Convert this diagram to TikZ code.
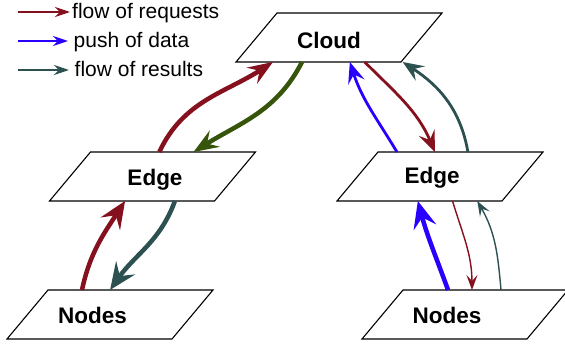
\documentclass[tikz,border=0pt]{standalone}
\usepackage{fontspec}
\setmainfont{Liberation Sans}
\usetikzlibrary{arrows.meta,calc}

\definecolor{reqcol}{RGB}{133,16,30}
\definecolor{datacol}{RGB}{40,0,255}
\definecolor{rescol}{RGB}{45,80,80}
\definecolor{backcol}{RGB}{55,85,10}

\tikzset{
  % the rectangle is the body of a parallelogram whose sides lean by 20.5pt each way
  box/.style={minimum width=165pt, minimum height=49pt, inner sep=0pt, outer sep=0pt},
  boxline/.style={draw, line width=1.1pt, line join=miter},
  boxlabel/.style={font=\fontsize{22.5}{26}\selectfont\bfseries, anchor=base, inner sep=0pt},
  legendtext/.style={font=\fontsize{21}{24}\selectfont, anchor=base west, inner sep=0pt},
  heavy/.style={line width=4.5pt, -{Stealth[length=27pt, width=23pt, inset=10pt]}},
  heavyup/.style={line width=4.5pt, -{Stealth[length=25pt, width=19pt, inset=9pt]}},
  medium/.style={line width=2.8pt, -{Stealth[length=21pt, width=17pt, inset=8pt]}},
  light/.style={line width=1.4pt, -{Stealth[length=15pt, width=11pt, inset=6pt]}},
  legendarrow/.style={line width=1.6pt, -{Stealth[length=15pt, width=10pt, inset=5pt]}},
}

\begin{document}
\begin{tikzpicture}[x=1pt, y=1pt]
\useasboundingbox (0,-348) rectangle (565,0);

% tiers
\node[box] (cloud) at (339,-37.5) {};
\node[box] (edgeL) at (152.5,-176.5) {};
\node[box] (edgeR) at (440,-176.5) {};
\node[box] (nodesL) at (110,-314.5) {};
\node[box] (nodesR) at (465,-314.5) {};

\foreach \n in {cloud,edgeL,edgeR,nodesL,nodesR}
  \draw[boxline] ([xshift=20.5pt]\n.north west) -- ([xshift=20.5pt]\n.north east)
    -- ([xshift=-20.5pt]\n.south east) -- ([xshift=-20.5pt]\n.south west) -- cycle;

\node[boxlabel] (cloudT) at (329,-48) {Cloud};
\node[boxlabel] (edgeLT) at (155,-185) {Edge};
\node[boxlabel] (edgeRT) at (432,-183) {Edge};
\node[boxlabel] (nodesLT) at (92.5,-323) {Nodes};
\node[boxlabel] (nodesRT) at (447,-323) {Nodes};

% attachment points on the lower side of the cloud tier
\coordinate (cb1) at ($(cloud.south west)!0.224!(cloud.south east)+(-20.5,0)$);
\coordinate (cb2) at ($(cloud.south west)!0.40!(cloud.south east)+(-20.5,0)$);
\coordinate (cb3) at ($(cloud.south west)!0.69!(cloud.south east)+(-20.5,0)$);
\coordinate (cb4) at ($(cloud.south west)!0.78!(cloud.south east)+(-20.5,0)$);
\coordinate (cb5) at ($(cloud.south west)!1.01!(cloud.south east)+(-20.5,0)$);
% left edge tier
\coordinate (elt1) at ($(edgeL.north west)!0.417!(edgeL.north east)+(20.5,0)$);
\coordinate (elt2) at ($(edgeL.north west)!0.624!(edgeL.north east)+(20.5,0)$);
\coordinate (elb1) at ($(edgeL.south west)!0.458!(edgeL.south east)+(-20.5,0)$);
\coordinate (elb2) at ($(edgeL.south west)!0.76!(edgeL.south east)+(-20.5,0)$);
% right edge tier
\coordinate (ert1) at ($(edgeR.north west)!0.115!(edgeR.north east)+(20.5,0)$);
\coordinate (ert2) at ($(edgeR.north west)!0.345!(edgeR.north east)+(20.5,0)$);
\coordinate (ert3) at ($(edgeR.north west)!0.545!(edgeR.north east)+(20.5,0)$);
\coordinate (erb1) at ($(edgeR.south west)!0.49!(edgeR.south east)+(-20.5,0)$);
\coordinate (erb2) at ($(edgeR.south west)!0.70!(edgeR.south east)+(-20.5,0)$);
\coordinate (erb3) at ($(edgeR.south west)!0.85!(edgeR.south east)+(-20.5,0)$);
% node tiers
\coordinate (nlt1) at ($(nodesL.north west)!0.206!(nodesL.north east)+(20.5,0)$);
\coordinate (nlt2) at ($(nodesL.north west)!0.376!(nodesL.north east)+(20.5,0)$);
\coordinate (nrt1) at ($(nodesR.north west)!0.273!(nodesR.north east)+(20.5,0)$);
\coordinate (nrt2) at ($(nodesR.north west)!0.418!(nodesR.north east)+(20.5,0)$);
\coordinate (nrt3) at ($(nodesR.north west)!0.594!(nodesR.north east)+(20.5,0)$);

% left branch
\draw[heavy, reqcol] (nlt1) to[out=78, in=237] (elb1);
\draw[heavy, rescol] (elb2) to[out=250, in=55] (nlt2);
\draw[heavyup, reqcol] (elt1) to[out=65, in=213] (cb1);
\draw[heavyup, backcol] (cb2) to[out=243, in=32] (elt2);

% right branch
\draw[medium, datacol] (ert1) to[out=121, in=288] (cb3);
\draw[medium, reqcol] (cb4) to[out=-45, in=113] (ert2);
\draw[medium, rescol] (ert3) to[out=100, in=-33] (cb5);
\draw[heavy, datacol] (nrt1) to[out=110, in=285] (erb1);
\draw[light, reqcol] (erb2) to[out=-73, in=90] (nrt2);
\draw[light, rescol] (nrt3) to[out=95, in=300] (erb3);

% legend
\coordinate (lgA1) at (18,-12);  \coordinate (lgA2) at (70,-12);
\coordinate (lgB1) at (18,-41);  \coordinate (lgB2) at (68,-41);
\coordinate (lgC1) at (18,-70);  \coordinate (lgC2) at (69,-70);
\draw[legendarrow, reqcol] (lgA1) -- (lgA2);
\draw[legendarrow, datacol] (lgB1) -- (lgB2);
\draw[legendarrow, rescol] (lgC1) -- (lgC2);
\node[legendtext] (lgAT) at (72,-19) {flow of requests};
\node[legendtext] (lgBT) at (73.5,-47) {push of data};
\node[legendtext] (lgCT) at (74.5,-76) {flow of results};
\end{tikzpicture}
\end{document}
